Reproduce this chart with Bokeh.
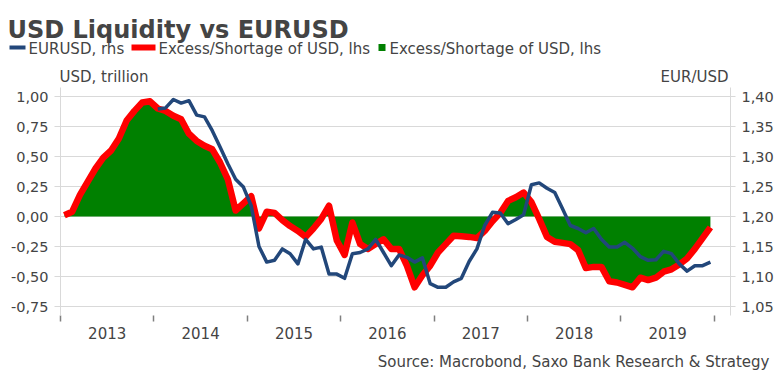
import pandas as pd
from bokeh.plotting import figure
from bokeh.layouts import column
from bokeh.models import Range1d, LinearAxis, FixedTicker, CustomJSTickFormatter
from bokeh.core.properties import value
from bokeh.embed import file_html
from bokeh.resources import INLINE

# ---------------- data ----------------
months = pd.period_range("2013-01", "2019-12", freq="M")
liquidity = [0.01, 0.04, 0.18, 0.29, 0.40, 0.49, 0.55, 0.65, 0.80, 0.88, 0.95, 0.96,
             0.90, 0.88, 0.84, 0.81, 0.69, 0.63, 0.59, 0.56, 0.45, 0.31, 0.05, 0.11,
             0.17, -0.10, 0.04, 0.03, -0.03, -0.08, -0.12, -0.17, -0.10, -0.02, 0.09, -0.20,
             -0.32, -0.05, -0.23, -0.27, -0.23, -0.19, -0.27, -0.27, -0.41, -0.59, -0.49, -0.41,
             -0.30, -0.23, -0.16, -0.165, -0.17, -0.18, -0.12, -0.04, 0.03, 0.13, 0.16, 0.20,
             0.12, -0.02, -0.17, -0.21, -0.22, -0.23, -0.28, -0.43, -0.42, -0.42, -0.54, -0.55,
             -0.57, -0.59, -0.51, -0.53, -0.51, -0.46, -0.44, -0.40, -0.35, -0.27, -0.18, -0.09]
eurusd_months = pd.period_range("2014-01", "2019-12", freq="M")
eurusd = [1.379, 1.381, 1.395, 1.389, 1.393, 1.369, 1.366, 1.343, 1.316, 1.288, 1.262, 1.249,
          1.218, 1.150, 1.124, 1.127, 1.146, 1.138, 1.121, 1.162, 1.146, 1.149, 1.104, 1.104,
          1.097, 1.138, 1.140, 1.146, 1.162, 1.140, 1.118, 1.136, 1.132, 1.124, 1.131, 1.088,
          1.082, 1.082, 1.091, 1.097, 1.125, 1.146, 1.185, 1.207, 1.206, 1.188, 1.195, 1.203,
          1.253, 1.256, 1.247, 1.240, 1.213, 1.185, 1.180, 1.173, 1.180, 1.162, 1.149, 1.149,
          1.157, 1.147, 1.133, 1.127, 1.128, 1.142, 1.138, 1.121, 1.109, 1.118, 1.118, 1.124]
years = ["2013", "2014", "2015", "2016", "2017", "2018", "2019"]
left_ticks = [-0.75, -0.5, -0.25, 0.0, 0.25, 0.5, 0.75, 1.0]
right_ticks = [1.05, 1.10, 1.15, 1.20, 1.25, 1.30, 1.35, 1.40]

title_text = "USD Liquidity vs EURUSD"
legend_labels = ["EURUSD, rhs", "Excess/Shortage of USD, lhs", "Excess/Shortage of USD, lhs"]
left_unit = "USD, trillion"
right_unit = "EUR/USD"
source_text = "Source: Macrobond, Saxo Bank Research & Strategy"

# ---------------- style ----------------
FONT = "DejaVu Sans"
TXT = "#444444"
RED = "#ff0000"
BLUE = "#22477a"
GREEN = "#008000"
GRID = "#d9d9d9"
W = 781


def mpos(periods):
    return [(p.year - 2013) * 12 + p.month - 0.5 for p in periods]


x_liq = mpos(months)
x_eur = mpos(eurusd_months)


def blank(height, y0, y1):
    f = figure(width=W, height=height, x_range=Range1d(0, W), y_range=Range1d(y1, y0),
               output_backend="svg", toolbar_location=None,
               x_axis_location=None, y_axis_location=None,
               min_border=0, min_border_left=0, min_border_right=0,
               min_border_top=0, min_border_bottom=0)
    f.outline_line_color = None
    f.xgrid.visible = False
    f.ygrid.visible = False
    f.frame_align = False
    return f


def put(f, x, y, text, size="15px", align="left", bold=False):
    f.text(x=[x], y=[y], text=[text], text_font=value(FONT), text_font_size=size,
           text_color=TXT, text_align=align, text_baseline="alphabetic",
           text_font_style="bold" if bold else "normal")


# ---------------- header (title, legend, unit labels) ----------------
head = blank(87, 0, 87)
put(head, 7, 29, title_text, size="24px", bold=True)
head.quad(left=[9], right=[25], top=[45], bottom=[49], fill_color=BLUE, line_color=None)
put(head, 28, 48.5, legend_labels[0])
head.quad(left=[131], right=[155], top=[44], bottom=[50], fill_color=RED, line_color=None)
put(head, 158, 48.5, legend_labels[1])
head.quad(left=[378], right=[385], top=[43.5], bottom=[50.5], fill_color=GREEN, line_color=None)
put(head, 389, 48.5, legend_labels[2])
put(head, 59, 76, left_unit)
put(head, 728, 76, right_unit, align="right")

# ---------------- main chart ----------------
p = figure(width=W, height=263, x_range=Range1d(0, 86.08), y_range=Range1d(-0.825, 1.075),
           output_backend="svg", toolbar_location=None,
           min_border_left=60, min_border_right=51, min_border_top=0, min_border_bottom=35)
p.outline_line_color = None
p.frame_align = False
p.extra_y_ranges = {"eur": Range1d(1.035, 1.415)}

fmt = CustomJSTickFormatter(code="return tick.toFixed(2).replace('.', ',');")

ya = p.yaxis[0]
ya.ticker = FixedTicker(ticks=left_ticks)
ya.formatter = fmt
ya.axis_line_color = GRID
ya.major_tick_line_color = GRID
ya.major_tick_out = 6
ya.major_tick_in = 0
ya.minor_tick_line_color = None
ya.major_label_standoff = 6
ya.major_label_text_font = FONT
ya.major_label_text_font_size = "14.5px"
ya.major_label_text_color = TXT

ra = LinearAxis(y_range_name="eur", ticker=FixedTicker(ticks=right_ticks), formatter=fmt)
ra.axis_line_color = GRID
ra.major_tick_line_color = GRID
ra.major_tick_out = 5
ra.major_tick_in = 0
ra.minor_tick_line_color = None
ra.major_label_standoff = 6
ra.major_label_text_font = FONT
ra.major_label_text_font_size = "14.5px"
ra.major_label_text_color = TXT
p.add_layout(ra, "right")

xa = p.xaxis[0]
mid = [i * 12 + 6 for i in range(len(years))]
xa.ticker = FixedTicker(ticks=mid, minor_ticks=[i * 12 for i in range(len(years) + 1)])
xa.major_label_overrides = {m: y for m, y in zip(mid, years)}
xa.axis_line_color = None
xa.major_tick_line_color = None
xa.major_tick_out = 0
xa.major_tick_in = 0
xa.minor_tick_line_color = "#7f7f7f"
xa.minor_tick_line_width = 1.5
xa.minor_tick_out = 6
xa.minor_tick_in = 0
xa.major_label_standoff = 5
xa.major_label_text_font = FONT
xa.major_label_text_font_size = "15px"
xa.major_label_text_color = TXT

p.xgrid.visible = False
p.ygrid.grid_line_color = GRID

p.varea(x=x_liq, y1=[0] * len(liquidity), y2=liquidity, fill_color=GREEN)
p.line(x=x_liq, y=liquidity, line_color=RED, line_width=6.5, line_join="round")
p.line(x=x_eur, y=eurusd, line_color=BLUE, line_width=3.5, line_join="round", y_range_name="eur")

# ---------------- footer ----------------
foot = blank(28, 350, 378)
put(foot, 769, 361, source_text, align="right")

open("out.html", "w").write(file_html(column(head, p, foot, spacing=0), INLINE))
